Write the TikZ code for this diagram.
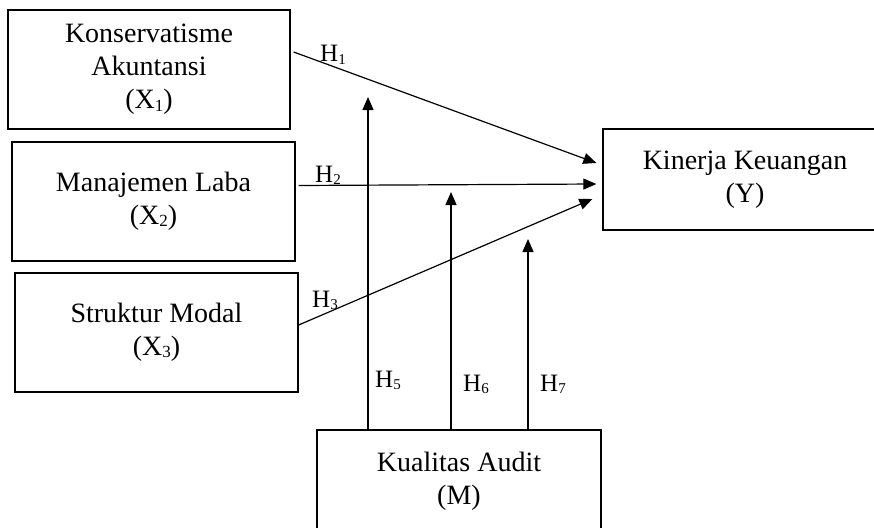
\documentclass[tikz,border=0pt]{standalone}
\usepackage{fontspec}
\setmainfont{Liberation Serif}
\usetikzlibrary{arrows.meta}
\newcommand\hsub[2][17]{\raisebox{-0.08em}{\fontsize{#1}{#1}\selectfont #2}}
\begin{document}
\begin{tikzpicture}[x=1pt,y=-1pt,
  box/.style={draw, line width=1.3pt, rectangle, align=center, inner sep=0pt,
    font=\fontsize{28}{33}\selectfont},
  arr/.style={line width=1.2pt, -{Triangle[length=13pt,width=11pt]}},
  lbl/.style={anchor=base west, inner sep=0pt, font=\fontsize{25}{25}\selectfont}]
\clip (0,0) rectangle (874,527);
\node[box, minimum width=282pt, minimum height=119pt] (x1) at (149,69.5)
  {Konservatisme\\Akuntansi\\(X\hsub{1})};
\node[box, minimum width=283pt, minimum height=119pt] (x2) at (153.5,201.5)
  {Manajemen Laba\\(X\hsub{2})};
\node[box, minimum width=283pt, minimum height=119pt] (x3) at (156.5,332.5)
  {Struktur Modal\\(X\hsub{3})};
\node[box, minimum width=284pt, minimum height=101pt] (y) at (745,179.5)
  {Kinerja Keuangan\\(Y)};
\node[box, minimum width=284pt, minimum height=102pt] (m) at (459,481)
  {Kualitas Audit\\(M)};
% direct effects
\draw[arr] ([xshift=3pt,yshift=17.5pt]x1.east) -- ([xshift=-6pt,yshift=16.5pt]y.west);
\draw[arr] ([xshift=3pt,yshift=16pt]x2.east) -- ([xshift=-6pt,yshift=-4.5pt]y.west);
\draw[arr] ([xshift=0pt,yshift=7.5pt]x3.east) -- ([xshift=-10pt,yshift=-19.5pt]y.west);
% moderation arrows
\coordinate (t5) at (368,97);
\coordinate (t6) at (451,192);
\coordinate (t7) at (528,239);
\draw[arr] ([xshift=-91pt]m.north) -- (t5);
\draw[arr] ([xshift=-8pt]m.north) -- (t6);
\draw[arr] ([xshift=69pt]m.north) -- (t7);
% labels
\node[lbl] (h1) at (320,62) {H\hsub[15]{1}};
\node[lbl] (h2) at (315,182) {H\hsub[15]{2}};
\node[lbl] (h3) at (312,307) {H\hsub[15]{3}};
\node[lbl] (h5) at (375,387) {H\hsub[15]{5}};
\node[lbl] (h6) at (463,391) {H\hsub[15]{6}};
\node[lbl] (h7) at (540,391) {H\hsub[15]{7}};
\end{tikzpicture}
\end{document}
